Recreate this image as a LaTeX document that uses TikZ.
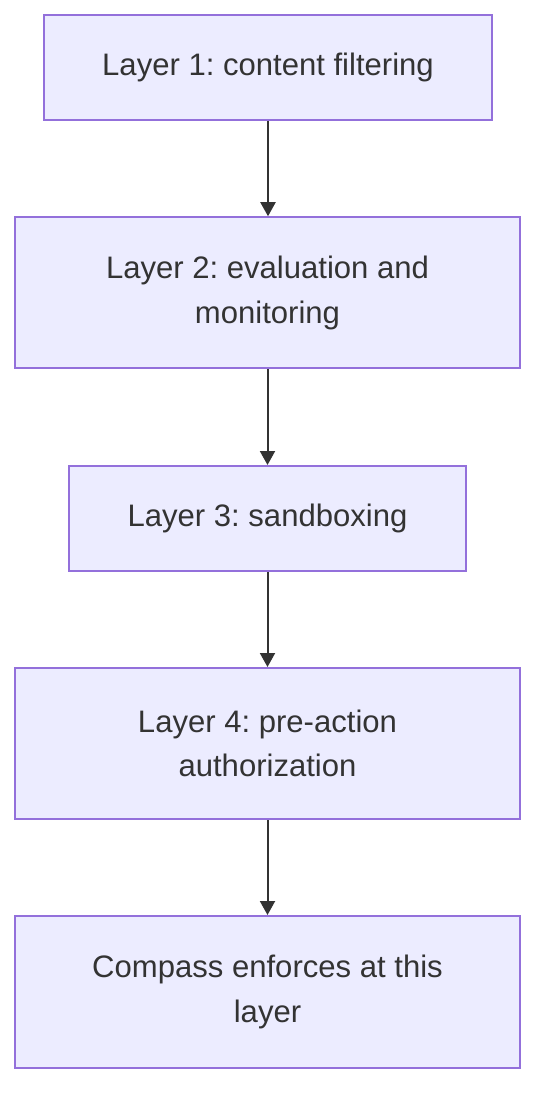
\documentclass[tikz,border=0pt]{standalone}
\usepackage{fontspec}
\setmainfont{Liberation Sans}
\usetikzlibrary{arrows.meta}
\definecolor{boxfill}{HTML}{ECECFF}
\definecolor{boxline}{HTML}{9370DB}
\definecolor{txt}{HTML}{333333}
\frenchspacing
\tikzset{
  layerbox/.style={draw=boxline, fill=boxfill, line width=1.5pt, inner sep=0pt,
    text=txt, align=center, font=\fontsize{23.3pt}{33.5pt}\selectfont},
  flow/.style={draw=txt, line width=1.5pt, -{Triangle[width=11.25pt,length=10.5pt]}}
}
\begin{document}
\begin{tikzpicture}[x=0.75pt,y=-0.75pt]
\useasboundingbox[fill=white] (0,0) rectangle (552,1116);
\node[layerbox, minimum width=336pt, minimum height=78.75pt] (l1) at (268,67.5) {Layer 1: content filtering};
\node[layerbox, minimum width=378.75pt, minimum height=113.25pt] (l2) at (267.5,292.75) {Layer 2: evaluation and\\monitoring};
\node[layerbox, minimum width=297.75pt, minimum height=78.75pt] (l3) at (267.5,518.5) {Layer 3: sandboxing};
\node[layerbox, minimum width=378.75pt, minimum height=113.25pt] (l4) at (267.5,743.5) {Layer 4: pre-action\\authorization};
\node[layerbox, minimum width=378.75pt, minimum height=114pt] (l5) at (267.5,992) {Compass enforces at this\\layer};
\draw[flow] (l1.south -| 268,0) -- (l2.north -| 268,0);
\draw[flow] (l2) -- (l3);
\draw[flow] (l3) -- (l4);
\draw[flow] (l4) -- (l5);
\end{tikzpicture}
\end{document}
